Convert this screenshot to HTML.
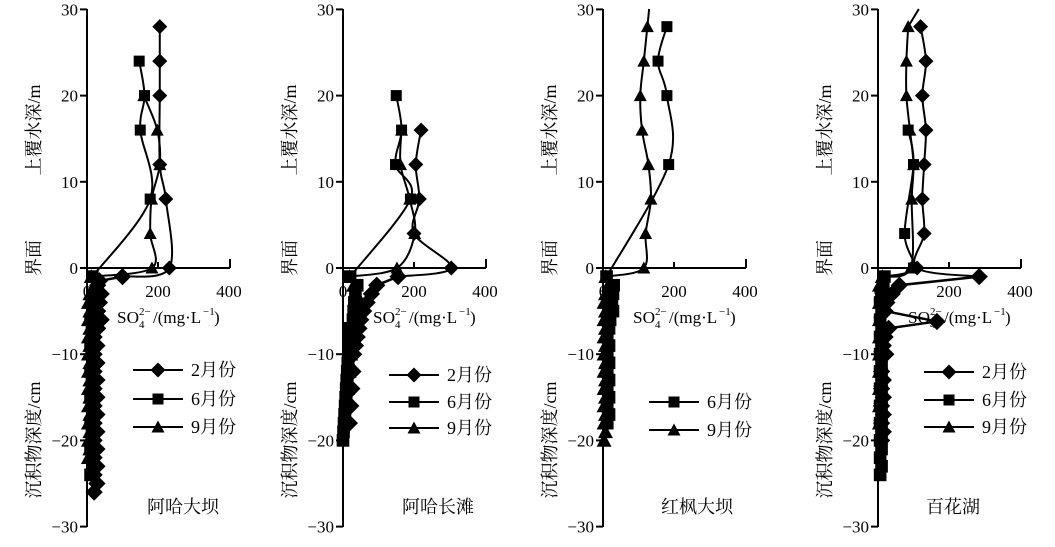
<!DOCTYPE html>
<html><head><meta charset="utf-8"><style>
body{margin:0;background:#fff;width:1055px;height:542px;overflow:hidden}
svg text{font-family:"Liberation Serif","Noto Serif CJK SC",serif;fill:#000}
</style></head><body>
<svg id="s" width="1055" height="542" xmlns="http://www.w3.org/2000/svg"></svg>
<script>
const S=document.getElementById('s');let h='';
const K=0.355,Y0=268,YK=8.62;
function Y(v){return Y0-v*YK}
function spline(p){if(p.length<3)return 'M'+p.map(a=>a.join(',')).join('L');let d='M'+p[0][0]+','+p[0][1];
for(let i=0;i<p.length-1;i++){const a=p[i-1]||p[i],b=p[i],c=p[i+1],e=p[i+2]||c;
d+=`C${b[0]+(c[0]-a[0])/6},${b[1]+(c[1]-a[1])/6} ${c[0]-(e[0]-b[0])/6},${c[1]-(e[1]-b[1])/6} ${c[0]},${c[1]}`;}return d}
function mk(t,x,y,sc){sc=sc||1;if(t=='d'){const r=7.5*sc;return `<path d="M${x},${y-r}L${x+r},${y}L${x},${y+r}L${x-r},${y}Z"/>`}
if(t=='s'){const r=5.5*sc;return `<rect x="${x-r}" y="${y-r}" width="${2*r}" height="${2*r}"/>`}
const r=6.5*sc;return `<path d="M${x},${y-r}L${x+r},${y+r*0.85}L${x-r},${y+r*0.85}Z"/>`}
function panel(x0,series,legend,ly,title,tx,lx){
 h+=`<g stroke="#000" stroke-width="2" fill="none"><path d="M${x0},9V527"/><path d="M${x0},268H${x0+143}"/><path d="M${x0+143},268V259M${x0+71},268V262"/>`;
 for(let v of [30,20,10,0,-10,-20,-30])h+=`<path d="M${x0},${Y(v)}h-7"/>`;h+='</g>';
 const lab={30:'30',20:'20',10:'10',0:'0','-10':'−10','-20':'−20','-30':'−30'};
 for(let v of [30,20,10,0,-10,-20,-30])h+=`<text x="${x0-9}" y="${Y(v)+6}" font-size="17" text-anchor="end">${lab[v]}</text>`;
 h+=`<text x="${x0}" y="297" font-size="17" text-anchor="middle">0</text><text x="${x0+71}" y="297" font-size="17" text-anchor="middle">200</text><text x="${x0+142}" y="297" font-size="17" text-anchor="middle">400</text>`;
 const sx=x0+30;
 h+=`<text x="${sx}" y="323" font-size="17" textLength="22" lengthAdjust="spacingAndGlyphs">SO</text><text x="${sx+22}" y="315" font-size="11">2−</text><text x="${sx+22}" y="328" font-size="11">4</text><text x="${sx+36}" y="323" font-size="17">/(mg·L</text><text x="${sx+86}" y="315" font-size="11">−1</text><text x="${sx+97}" y="323" font-size="17">)</text>`;
 h+=`<text transform="translate(${lx},130) rotate(-90)" font-size="18" text-anchor="middle">上覆水深/m</text>`;
 h+=`<text transform="translate(${lx},258) rotate(-90)" font-size="18" text-anchor="middle">界面</text>`;
 h+=`<text transform="translate(${lx},440) rotate(-90)" font-size="18" text-anchor="middle">沉积物深度/cm</text>`;
 h+=`<text x="${tx}" y="513" font-size="18" text-anchor="middle">${title}</text>`;
 for(const s of series){
  const w=s.w.map(a=>[x0+a[0]*K,Y(a[1])]);const d=s.d.map(a=>[x0+a[0]*K,Y(0)+(-a[1])*YK]);
  let path=spline(w.concat(d.slice(0,1)));
  if(s.top)path='M'+(x0+s.top*K)+',9L'+w[0][0]+','+w[0][1]+path.replace(/^M[^C]*/,'L'+w[0][0]+','+w[0][1]);
  h+=`<path d="${path}" stroke="#000" stroke-width="2" fill="none"/>`;
  h+=`<path d="M${d.map(a=>a.join(',')).join('L')}" stroke="#000" stroke-width="2.5" fill="none"/>`;
  h+='<g fill="#000">';for(const p of w)h+=mk(s.t,p[0],p[1]);for(const p of d)h+=mk(s.t,p[0],p[1],1.15);h+='</g>';
 }
 legend.forEach((t,i)=>{const y=ly[i];h+=`<path d="M${x0+46},${y}h50" stroke="#000" stroke-width="2"/><g fill="#000">${mk(t[0],x0+71,y)}</g><text x="${x0+104}" y="${y+6}" font-size="18">${t[1]}</text>`});
}
function sd(from,to,step,f){const r=[];for(let v=from;v>=to;v-=step)r.push([f(v),v]);return r}
panel(87,[
{t:'d',w:[[205,28],[205,24],[205,20],[205,12],[222,8],[232,0]],d:[[100,-1],[35,-1.5],[30,-2],[40,-3],[35,-4],[30,-5],[40,-6],[30,-7]].concat(sd(-8,-26,1,v=>20+(Math.abs(v)%2)*8))},
{t:'s',w:[[147,24],[162,20],[150,16],[178,8]],d:[[15,-1],[30,-2],[25,-3]].concat(sd(-4,-24,1,v=>10+(Math.abs(v)%3)*4))},
{t:'t',w:[[160,20],[198,16],[205,12],[182,8],[178,4],[183,0]],d:[[12,-1],[20,-2]].concat(sd(-3,-22,1,v=>4+(Math.abs(v)%2)*4))}
],[['d','2月份'],['s','6月份'],['t','9月份']],[370,399,427],'阿哈大坝',183,40);
panel(343,[
{t:'d',w:[[220,16],[205,12],[215,8],[200,4],[305,0]],d:[[155,-1],[95,-2],[80,-3],[68,-4],[58,-5],[50,-6],[45,-7],[40,-8],[35,-9],[30,-10],[28,-12],[25,-14],[22,-16],[18,-18]]},
{t:'s',w:[[150,20],[165,16],[148,12],[190,8]],d:[[20,-1],[40,-2],[35,-3],[32,-4],[30,-5],[28,-6]].concat(sd(-7,-20,1,v=>Math.max(0,30-Math.abs(v)*1.5)))},
{t:'t',w:[[165,16],[162,12],[188,8],[202,4],[152,0]],d:[[18,-1],[30,-2]].concat(sd(-3,-18,1,v=>Math.max(4,45-Math.abs(v)*2.3)))}
],[['d','2月份'],['s','6月份'],['t','9月份']],[375,402,428],'阿哈长滩',438,296);
panel(603,[
{t:'s',w:[[180,28],[155,24],[180,20],[185,12]],d:[[10,-1],[30,-2],[28,-3],[25,-4],[28,-5],[20,-6]].concat(sd(-7,-18,1,v=>12+(Math.abs(v)%2)*5))},
{t:'t',top:130,w:[[125,28],[115,24],[105,20],[110,16],[128,12],[135,8],[120,4],[115,0]],d:[[8,-1],[15,-2]].concat(sd(-3,-20,1,v=>3+(Math.abs(v)%2)*4))}
],[['s','6月份'],['t','9月份']],[402,430],'红枫大坝',697,556);
panel(878,[
{t:'d',w:[[120,28],[135,24],[125,20],[135,16],[130,12],[125,8],[130,4],[110,0]],d:[[285,-1],[60,-2],[40,-3],[25,-4],[20,-5],[166,-6.2],[30,-7],[20,-8],[15,-9],[22,-10]].concat(sd(-12,-20,1,v=>10+(Math.abs(v)%2)*5))},
{t:'s',w:[[85,16],[100,12],[75,4],[100,0]],d:[[18,-1],[15,-2]].concat(sd(-3,-24,1,v=>6+(Math.abs(v)%2)*4))},
{t:'t',top:115,w:[[85,28],[80,24],[80,20],[90,16],[100,12],[95,8],[92,0]],d:[[12,-1]].concat(sd(-2,-18,1,v=>4+(Math.abs(v)%2)*4))}
],[['d','2月份'],['s','6月份'],['t','9月份']],[372,400,427],'百花湖',953,831);
S.innerHTML=h;
</script>
</body></html>
